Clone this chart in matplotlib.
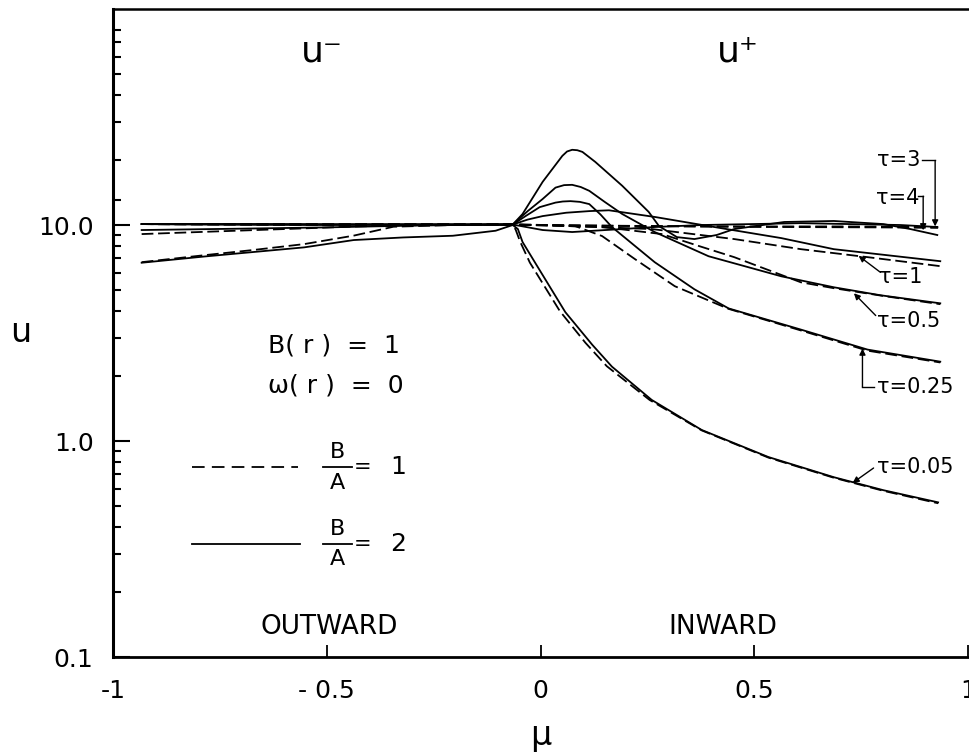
import numpy as np
import matplotlib.pyplot as plt

# curves: (mu, u) for each optical depth tau
# solid = B/A = 2, dashed = B/A = 1
mu_005_s = [-0.933, -0.786, -0.553, -0.437, -0.321, -0.205, -0.105, -0.065, -0.053, -0.042,
            -0.012, 0.058, 0.121, 0.167, 0.260, 0.377, 0.533, 0.686, 0.802, 0.930]
u_005_s = [6.69, 7.15, 7.88, 8.52, 8.76, 8.92, 9.41, 10.0, 9.58, 8.34,
           6.66, 3.95, 2.79, 2.21, 1.55, 1.125, 0.843, 0.68, 0.592, 0.52]
mu_005_d = [-0.933, -0.786, -0.670, -0.553, -0.437, -0.344, -0.205, -0.065, -0.058, -0.048,
            -0.025, 0.045, 0.105, 0.155, 0.255, 0.377, 0.533, 0.686, 0.802, 0.930]
u_005_d = [6.73, 7.25, 7.67, 8.16, 8.93, 9.82, 10.0, 10.05, 9.5, 8.4,
           6.7, 4.0, 2.85, 2.22, 1.55, 1.12, 0.838, 0.676, 0.588, 0.515]

mu_025_s = [-0.933, -0.7, -0.5, -0.344, -0.2, -0.065, -0.035, -0.002, 0.035, 0.052, 0.070,
            0.092, 0.114, 0.140, 0.167, 0.267, 0.360, 0.440, 0.609, 0.765, 0.935]
u_025_s = [9.48, 9.62, 9.75, 9.9, 10.0, 10.05, 11.0, 12.1, 12.7, 12.85, 12.9,
           12.8, 12.5, 11.2, 9.79, 6.73, 5.04, 4.11, 3.28, 2.65, 2.33]
mu_025_d = [-0.933, -0.786, -0.553, -0.43, -0.3, -0.065, 0.005, 0.081, 0.144, 0.221,
            0.314, 0.440, 0.609, 0.765, 0.935]
u_025_d = [9.08, 9.3, 9.65, 9.85, 9.98, 10.05, 10.0, 9.89, 8.89, 6.95,
           5.21, 4.09, 3.25, 2.62, 2.31]

mu_05_s = [-0.933, -0.5, -0.065, -0.03, 0.005, 0.035, 0.055, 0.074, 0.094, 0.114, 0.150, 0.191,
           0.267, 0.393, 0.563, 0.686, 0.795, 0.935]
u_05_s = [10.1, 10.05, 10.05, 11.6, 13.2, 14.9, 15.3, 15.35, 15.0, 14.4, 12.8, 11.25,
          9.28, 7.17, 5.79, 5.15, 4.73, 4.34]
mu_05_d = [-0.933, -0.5, -0.065, 0.144, 0.284, 0.37, 0.453, 0.609, 0.686, 0.80, 0.935]
u_05_d = [10.1, 10.05, 10.05, 9.79, 9.08, 8.0, 7.10, 5.43, 5.10, 4.70, 4.30]

mu_1_s = [-0.933, -0.5, -0.065, -0.03, 0.005, 0.06, 0.114, 0.160, 0.267, 0.393, 0.563, 0.686, 0.935]
u_1_s = [10.1, 10.05, 10.05, 10.6, 11.0, 11.4, 11.6, 11.7, 10.9, 9.89, 8.70, 7.73, 6.80]
mu_1_d = [-0.933, -0.5, -0.065, 0.067, 0.26, 0.453, 0.609, 0.765, 0.935]
u_1_d = [10.1, 10.05, 10.05, 9.89, 9.58, 8.61, 7.73, 7.10, 6.45]

mu_3_s = [-0.933, -0.5, -0.065, 0.005, 0.074, 0.191, 0.267, 0.377, 0.609, 0.842, 0.928]
u_3_s = [10.1, 10.05, 10.05, 9.48, 9.28, 9.58, 9.79, 10.0, 10.2, 10.0, 9.79]
mu_3_d = [-0.933, -0.5, -0.065, 0.1, 0.4, 0.7, 0.93]
u_3_d = [10.1, 10.05, 10.05, 9.95, 9.85, 9.85, 9.79]

mu_4_s = [-0.933, -0.553, -0.065, -0.042, 0.005, 0.051, 0.062, 0.074, 0.086, 0.098, 0.128, 0.191,
          0.253, 0.277, 0.319, 0.360, 0.412, 0.453, 0.570, 0.686, 0.802, 0.865, 0.928]
u_4_s = [10.1, 10.05, 10.05, 11.25, 15.85, 20.9, 21.9, 22.3, 22.2, 21.8, 19.6, 15.2,
         11.5, 9.89, 8.79, 8.61, 8.99, 9.58, 10.33, 10.44, 10.1, 9.58, 8.99]
mu_4_d = [-0.933, -0.5, -0.065, 0.2, 0.5, 0.8, 0.93]
u_4_d = [10.1, 10.05, 10.05, 9.9, 9.8, 9.75, 9.7]

solid = [(mu_005_s, u_005_s), (mu_025_s, u_025_s), (mu_05_s, u_05_s),
         (mu_1_s, u_1_s), (mu_3_s, u_3_s), (mu_4_s, u_4_s)]
dashed = [(mu_005_d, u_005_d), (mu_025_d, u_025_d), (mu_05_d, u_05_d),
          (mu_1_d, u_1_d), (mu_3_d, u_3_d), (mu_4_d, u_4_d)]

x_ticks = [-1, -0.5, 0, 0.5, 1]
x_labels = ['-1', '- 0.5', '0', '0.5', '1']
y_ticks = [0.1, 1, 10]
y_labels = ['0.1', '1.0', '10.0']
y_minor = [0.2, 0.3, 0.4, 0.5, 0.6, 0.7, 0.8, 0.9,
           2, 3, 4, 5, 6, 7, 8, 9,
           13, 20, 30, 40, 50, 60, 70, 80]

fig = plt.figure(figsize=(9.7, 7.52), dpi=100)
ax = fig.add_axes([0.1165, 0.1263, 0.8815, 0.8617])

for m, u in solid:
    ax.plot(m, u, color='black', lw=1.3, solid_joinstyle='round')
for m, u in dashed:
    ax.plot(m, u, color='black', lw=1.3, dashes=(6.5, 2.6))

ax.set_yscale('log')
ax.set_xlim(-1, 1)
ax.set_ylim(0.1, 100)

ax.set_xticks(x_ticks)
ax.set_xticklabels(x_labels, fontsize=18)
ax.set_yticks(y_ticks)
ax.set_yticklabels(y_labels, fontsize=18)
ax.set_yticks(y_minor, minor=True)
ax.yaxis.set_minor_formatter(plt.NullFormatter())
ax.tick_params(axis='x', direction='in', length=9, width=1.3, pad=16, top=False)
ax.tick_params(axis='y', which='major', direction='in', length=12, width=1.5, pad=14, right=False)
ax.tick_params(axis='y', which='minor', direction='in', length=6, width=1.5, right=False)
ax.tick_params(axis='x', which='minor', bottom=False, top=False)

ax.spines['right'].set_visible(False)
ax.spines['left'].set_linewidth(2.2)
ax.spines['bottom'].set_linewidth(2.0)
ax.spines['top'].set_linewidth(1.8)

# axis labels
fig.text(0.021, 0.558, 'u', fontsize=24, ha='center', va='center')
fig.text(0.557, 0.022, 'μ', fontsize=24, ha='center', va='center')

# panel headings
fig.text(0.332, 0.931, 'u⁻', fontsize=26, ha='center', va='center')
fig.text(0.761, 0.931, 'u⁺', fontsize=26, ha='center', va='center')
fig.text(0.339, 0.166, 'OUTWARD', fontsize=19, ha='center', va='center')
fig.text(0.745, 0.166, 'INWARD', fontsize=19, ha='center', va='center')

# parameters
fig.text(0.276, 0.541, 'B( r )  =  1', fontsize=18, ha='left', va='center')
fig.text(0.276, 0.488, 'ω( r )  =  0', fontsize=18, ha='left', va='center')

# hand-made legend
fig.add_artist(plt.Line2D([0.198, 0.307], [0.379, 0.379], color='black', lw=1.3, dashes=(7, 4)))
fig.add_artist(plt.Line2D([0.198, 0.309], [0.277, 0.277], color='black', lw=1.3))
for yb, val in [(0.379, '1'), (0.277, '2')]:
    fig.add_artist(plt.Line2D([0.333, 0.363], [yb, yb], color='black', lw=1.3))
    fig.text(0.348, yb + 0.020, 'B', fontsize=16, ha='center', va='center')
    fig.text(0.348, yb - 0.021, 'A', fontsize=16, ha='center', va='center')
    fig.text(0.374, yb, '=', fontsize=15, ha='center', va='center')
    fig.text(0.410, yb, val, fontsize=18, ha='center', va='center')

# tau labels with leaders
arw = dict(arrowstyle='-|>', color='black', lw=1.0, mutation_scale=9, shrinkA=0, shrinkB=0)
tau_fs = 15

ax.text(0.788, 19.9, 'τ=3', fontsize=tau_fs, ha='left', va='center')
ax.plot([0.893, 0.923], [19.9, 19.9], color='black', lw=1.0, clip_on=False)
ax.annotate('', xy=(0.923, 9.85), xytext=(0.923, 19.9), arrowprops=arw)

ax.text(0.784, 13.4, 'τ=4', fontsize=tau_fs, ha='left', va='center')
ax.plot([0.884, 0.895], [13.6, 13.6], color='black', lw=1.0, clip_on=False)
ax.annotate('', xy=(0.895, 9.45), xytext=(0.895, 13.6), arrowprops=arw)

ax.text(0.791, 5.73, 'τ=1', fontsize=tau_fs, ha='left', va='center')
ax.annotate('', xy=(0.744, 7.2), xytext=(0.795, 6.04), arrowprops=arw)

ax.text(0.788, 3.58, 'τ=0.5', fontsize=tau_fs, ha='left', va='center')
ax.annotate('', xy=(0.733, 4.83), xytext=(0.784, 3.81), arrowprops=arw)

ax.text(0.788, 1.78, 'τ=0.25', fontsize=tau_fs, ha='left', va='center')
ax.plot([0.779, 0.753], [1.78, 1.78], color='black', lw=1.0)
ax.annotate('', xy=(0.753, 2.68), xytext=(0.753, 1.78), arrowprops=arw)

ax.text(0.788, 0.755, 'τ=0.05', fontsize=tau_fs, ha='left', va='center')
ax.annotate('', xy=(0.730, 0.64), xytext=(0.779, 0.75), arrowprops=arw)

fig.savefig('out.png', dpi=100)
